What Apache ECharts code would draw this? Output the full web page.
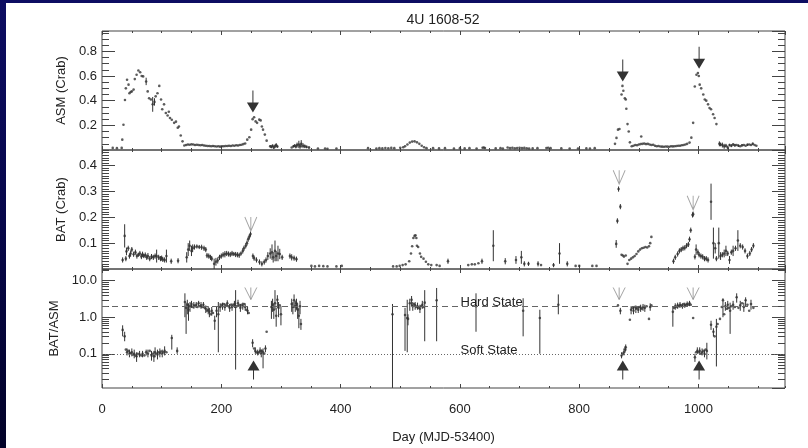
<!DOCTYPE html>
<html><head><meta charset="utf-8">
<script src="https://cdn.jsdelivr.net/npm/echarts@6/dist/echarts.min.js"></script>
<style>
html,body{margin:0;padding:0;width:808px;height:448px;overflow:hidden;background:linear-gradient(180deg,#0d0d62 0%,#07074a 50%,#020228 100%);}
#bg{position:absolute;left:6px;top:3px;width:802px;height:445px;background:#fff;}
#chart{position:absolute;left:0;top:0;width:808px;height:448px;}
</style></head><body><div id="bg"></div><div id="chart"></div>
<script>
const chartTitle = '4U 1608-52';
const xName = 'Day (MJD-53400)';
const panelNames = ['ASM (Crab)', 'BAT (Crab)', 'BAT/ASM'];
const stateNames = ['Hard State', 'Soft State'];
const hardLevel = 2.0;
const softLevel = 0.1;
const logMinorTicks = [0.02,0.03,0.04,0.05,0.06,0.07,0.08,0.09,0.2,0.3,0.4,0.5,0.6,0.7,0.8,0.9,2,3,4,5,6,7,8,9,20];

// ASM: [day, rate, error]
const asmData = [
[18,0.017],[25,0.015],[33,0.017],[34,0.084],[36,0.205],[38.5,0.405],[40,0.50],[42,0.57],[44.5,0.53],[46,0.46],[48,0.47],[50,0.475],[53,0.49],[55,0.575],[58,0.61],[61,0.645],[64,0.63],[66.5,0.60],[69,0.597],[74,0.556,0.03],[76.6,0.475],[79,0.42],[82,0.41],[85,0.37,0.06],[88,0.39,0.03],[90,0.435],[93,0.46],[96,0.52],[99,0.41],[101,0.33],[104,0.37],[107,0.30],[110,0.28],[112,0.31],[114,0.26],[117,0.245],[121,0.22],[124,0.23],[127,0.18],[129,0.19],[132,0.117],[135,0.07],[138,0.036],
[141,0.04],[144,0.045],[147,0.042],[150,0.046],[153,0.044],[156,0.04],[159,0.043],[162,0.041],[165,0.038],[168,0.04],[171,0.036],[174,0.035],[177,0.033],[180,0.032],[183,0.03],[186,0.033],[189,0.03],[192,0.028],[195,0.03],[198,0.027],[201,0.031],[204,0.03],[207,0.033],[210,0.032],[213,0.035],[216,0.033],[219,0.036],[222,0.035],[225,0.038],[228,0.036],[231,0.04],[234,0.042],[237,0.048],[240,0.053],[243.5,0.084],[247,0.103],[250,0.165],[252.5,0.25],[255,0.265],[257.5,0.232],[260,0.22],[263.7,0.246],[266,0.24],[268,0.19],[270,0.165],[273,0.125],[276,0.076],
[282,0.03,0.01],[284,0.025,0.01],[286,0.035,0.01],[288,0.02,0.012],[290,0.03,0.015],[292,0.04,0.015],[294,0.028,0.01],
[318,0.02],[321,0.03,0.01],[323,0.035,0.012],[325,0.028,0.015],[327,0.04,0.02],[330,0.045,0.03],[332,0.03,0.02],[334,0.05,0.03],[337,0.035,0.02],[340,0.03,0.015],[343,0.025,0.01],[347,0.02,0.01],
[362,0.012],[374,0.012],[378,0.01],[393,0.012],
[446,0.015],[460,0.012],[465,0.015],[470,0.013],[475,0.016],[480,0.014],[485,0.017],[490,0.015],[500,0.018],[505,0.022],[508,0.03],[512,0.045],[516,0.06],[520,0.068],[524,0.07],[528,0.062],[532,0.05],[536,0.035],[540,0.022],[544,0.015],
[555,0.015],[565,0.013],[575,0.015],[590,0.012],[600,0.015],[608,0.013],[616,0.015],[628,0.012],[638,0.018],[640,0.02],[642,0.016],[660,0.013],[668,0.015],[672,0.012],[680,0.02],[684,0.015],[688,0.018],[692,0.014],[696,0.016],[700,0.018],[704,0.015],[708,0.017],[712,0.014],[716,0.012],[722,0.013],[730,0.015],[745,0.016],[748,0.018],[752,0.015],[770,0.013],[784,0.012],[798,0.012],[812,0.013],[818,0.012],[826,0.015],
[860,0.05],[862.5,0.098],[865,0.165],[867.5,0.17],[871,0.45],[872.5,0.52],[874,0.48],[876.5,0.42],[878,0.41],[879,0.335],[881,0.21],[883,0.15],[885,0.062],[888,0.03],[891,0.035],[894,0.04],[897,0.038],[900,0.045],[903,0.048],[904,0.11],[906,0.05],[909,0.052],[912,0.048],[915,0.05],[918,0.045],[921,0.04],[924,0.042],[927,0.035],[930,0.03],[933,0.032],[936,0.028],[939,0.027],[942,0.026],[945,0.028],[948,0.027],[951,0.026],[954,0.03],[957,0.029],[960,0.031],[963,0.033],[966,0.035],[969,0.034],[972,0.038],[975,0.04],[978,0.045],[981,0.05],[985,0.06],[988,0.1],
[991,0.22],[993.8,0.515],[996.6,0.61],[999,0.624],[1000.5,0.60],[1002,0.53],[1004.5,0.50],[1008,0.45],[1010.5,0.41],[1013,0.40],[1016,0.37],[1018.5,0.34],[1021,0.33],[1024.5,0.29],[1027,0.26],[1030,0.21],
[1035,0.05,0.02],[1037,0.045,0.015],[1040,0.04,0.02],[1043,0.03,0.02],[1046,0.035,0.015],[1049,0.02,0.015],[1052,0.04,0.01],[1055,0.035,0.012],[1058,0.045,0.01],[1061,0.038,0.012],[1064,0.04],[1067,0.035,0.01],[1070,0.03],[1073,0.038,0.01],[1076,0.04],[1079,0.035],[1082,0.042,0.01],[1085,0.045],[1088,0.04],[1091,0.05,0.01],[1094,0.04],[1097,0.035]
];

// BAT: [day, rate, error]
const batData = [
[34.6,0.035,0.01],[38,0.128,0.045],[40,0.04,0.01],[41,0.068,0.015],[44,0.08,0.01],[46,0.05,0.01],[48,0.06,0.012],[50,0.075,0.01],[53,0.057,0.01],[56,0.065,0.01],[58.5,0.05,0.01],[61,0.055,0.008],[63.5,0.06,0.01],[66,0.048,0.01],[68,0.057,0.01],[70,0.05,0.008],[72.5,0.054,0.01],[75,0.045,0.01],[77,0.05,0.012],[80,0.04,0.01],[83,0.048,0.01],[86,0.045,0.01],[89,0.05,0.01],[91.6,0.05,0.025],[95,0.045,0.01],[98,0.04,0.01],[100,0.042,0.01],[102,0.037,0.01],[105,0.035,0.01],[108,0.05,0.025],[116,0.03,0.01],[127.5,0.032,0.01],
[142,0.045,0.02],[144.5,0.075,0.025],[147,0.09,0.02],[150,0.07,0.02],[152,0.08,0.015],[155,0.085,0.01],[159,0.087,0.008],[163,0.085,0.008],[167,0.084,0.01],[171,0.08,0.01],[174,0.075,0.01],[176,0.052,0.01],[179,0.05,0.01],[182,0.045,0.01],[184,0.04,0.01],[188,0.02,0.02],[191,0.028,0.015],[194,0.033,0.012],[197,0.045,0.01],[200,0.05,0.01],[203,0.055,0.01],[206,0.057,0.012],[209,0.06,0.01],[212,0.058,0.01],[215,0.056,0.01],[218,0.06,0.01],[221,0.058,0.008],[224,0.056,0.01],[227,0.055,0.01],[230,0.053,0.01],[233,0.06,0.008],[236,0.07,0.01],[238,0.08,0.01],[241,0.09,0.01],[243,0.1,0.01],[245,0.115,0.01],[247,0.125,0.01],[249,0.135,0.01],
[253,0.05,0.01],[255,0.042,0.01],[259,0.035,0.01],[264,0.027,0.01],[268,0.02,0.01],[272,0.027,0.01],[275,0.035,0.01],[278,0.05,0.015],[282,0.06,0.02],[285,0.065,0.03],[287,0.045,0.02],[290,0.07,0.04],[292,0.05,0.02],[295,0.06,0.03],[298,0.058,0.02],[302,0.045,0.01],
[315,0.05,0.01],[318,0.045,0.012],[322,0.042,0.01],[326,0.038,0.01],
[351,0.012],[357,0.01],[364,0.012],[371,0.011],[378,0.01],[393,0.01],[402,0.012],
[488,0.01],[494,0.01],[499,0.012],[504,0.015],[509,0.018],[515,0.03],[518,0.06],[520,0.088],[522,0.12],[524,0.128],[525.5,0.13],[527,0.12],[528,0.09],[530,0.085],[533,0.06],[535,0.047],[539,0.04],[543,0.028],[547,0.018],[552,0.015],[561,0.015],[566,0.012],
[580,0.03,0.01],[614,0.015],[620,0.018],[625,0.018],[631,0.022],[637,0.03,0.01],
[656,0.09,0.06],[676,0.03,0.012],[694,0.035,0.015],[703,0.045,0.025],[708,0.02,0.01],[715,0.02,0.008],[731,0.02,0.01],[736,0.015],[757,0.015,0.008],[767,0.06,0.04],[780,0.02,0.01],[794,0.012],[800,0.012],[822,0.012],[829,0.012],
[862,0.097,0.015],[864,0.186,0.01],[866,0.309,0.01],[869,0.241,0.01],
[871,0.055],[873,0.052],[875,0.048],[878,0.052],[881,0.02],[884,0.035],[887,0.04],[890,0.045],[893,0.05],[896,0.058],[899,0.068],[902,0.075],[905,0.08],[908,0.082],[911,0.085],[914,0.083],[917,0.088],[919,0.1],[921,0.124],
[958,0.03,0.01],[961,0.045,0.01],[965,0.058,0.01],[968,0.07,0.01],[971,0.075,0.01],[974,0.08,0.01],[977,0.082,0.01],[980,0.09,0.01],[983,0.095,0.01],[985,0.115,0.01],[987,0.15,0.01],[990,0.209,0.01],[991,0.212,0.01],
[994,0.047,0.01],[996,0.075,0.02],[999,0.065,0.01],[1001,0.055,0.01],[1004,0.05,0.01],[1007,0.047,0.01],[1010,0.04,0.01],[1013,0.04,0.01],[1016,0.035,0.01],[1021,0.26,0.07],[1025,0.1,0.06],[1028,0.08,0.02],[1030,0.04,0.01],[1034,0.1,0.06],[1037,0.05,0.015],[1040,0.055,0.01],[1043,0.06,0.015],[1046,0.07,0.02],[1049,0.06,0.01],[1052,0.035,0.015],[1055,0.065,0.01],[1058,0.07,0.02],[1062,0.08,0.01],[1066,0.11,0.04],[1070,0.09,0.01],[1074,0.085,0.01],[1078,0.07,0.01],[1082,0.05,0.01],[1086,0.06,0.01],[1089,0.075,0.01],[1092,0.09,0.01]
];

// BAT/ASM: [day, ratio, low, high]
const ratioData = [
[34.6,0.45,0.3,0.6],[38,0.3,0.22,0.4],[40,0.13],[42,0.11,0.09,0.14],[44,0.12],[46,0.1,0.08,0.13],[48,0.105],[50,0.11,0.085,0.14],[52,0.095],[54,0.1,0.075,0.13],[56,0.09],[58,0.085,0.06,0.11],[60,0.1],[63,0.095,0.08,0.12],[66,0.09],[68,0.1,0.08,0.12],[71,0.09],[74,0.11,0.09,0.13],[77,0.1,0.08,0.13],[80,0.12],[83,0.09,0.065,0.12],[85,0.1],[87,0.085,0.06,0.12],[89,0.11,0.08,0.15],[91,0.1],[93,0.095,0.07,0.13],[95,0.11],[97,0.105,0.08,0.14],[99,0.115],[101,0.1,0.08,0.13],[103,0.11],[105,0.12,0.09,0.16],[108,0.11],[117,0.27,0.13,0.33],[126,0.12,0.1,0.15],
[139,2.6,1.0,4.5],[141,1.8,0.35,2.5],[143,2.2,1.2,3.0],[145,1.6,0.8,2.4],[147.5,2.0,1.4,2.6],[150,2.3,1.8,2.8],[152,1.9],[154,2.1,1.7,2.6],[156,2.0],[158,2.2,1.8,2.6],[160,1.9],[162,2.4,2.0,2.8],[164,2.0],[166,2.1,1.7,2.6],[168,1.9],[170,2.2,1.8,2.6],[172,1.8],[174,1.7,1.3,2.1],[176,1.5],[178,1.6,1.2,2.0],[180,1.4,1.0,1.8],[182,1.2],[184,1.5,1.1,1.9],[186,1.3],[189,0.8,0.45,1.1],[192,1.5,1.0,2.0],[195,1.2,0.11,2.6],[198,1.9,1.4,2.4],[200,2.2],[202,2.0,1.6,2.5],[204,2.3],[206,1.9,1.5,2.4],[208,2.1],[210,2.4,2.0,2.9],[212,2.0],[214,1.8,1.4,2.3],[216,2.2],[218,1.9,1.5,2.4],[220,2.1],[222,2.3,1.8,2.8],[224,1.9,0.037,5.5],[226,2.0],[228,2.4,1.9,3.0],[230,2.1],[232,1.8,1.4,2.3],[234,2.2],[236,2.0,1.6,2.5],[238,2.3],[240,1.9,1.5,2.4],[242,1.6],[244,1.5,1.2,1.9],[246,1.3],
[252.5,0.2,0.15,0.25],[255,0.14],[257,0.12,0.1,0.15],[259,0.11],[261,0.105,0.09,0.13],[263,0.11],[265,0.12,0.1,0.15],[267,0.1,0.08,0.13],[268,0.12],[270,0.11,0.04,0.14],[272,0.1],[274,0.14,0.11,0.17],[276,0.4],
[284,1.9,0.9,2.8],[286,2.2,1.4,3.2],[288,1.6,0.9,2.4],[290,2.4,1.6,5.5],[292,1.1,0.55,1.8],[294,3.0,1.8,4.0],[296,1.8,1.0,2.6],[298,2.1],[300,1.2,0.6,2.0],
[318,2.3,1.4,3.2],[320,1.9,1.2,2.6],[322,2.9,1.8,4.2],[324,2.0,1.4,2.8],[326,2.4,1.6,3.2],[328,1.6,0.9,2.4],[330,1.1,0.5,1.8],[332,2.0,1.2,2.8],[333.5,0.65,0.45,0.9],
[487,1.2,0.0117,2.3],[508,1.15,0.12,1.8],[511.7,0.95,0.11,3.0],[513,0.9,0.6,1.2],[516,2.4,1.5,3.2],[519,3.0,2.0,3.8],[521,2.0,1.5,2.6],[523,2.3],[525,2.1,1.6,2.6],[527,1.9],[529,2.0,1.6,2.5],[531,1.8],[533,1.7,1.3,2.2],[535,2.0],[537,2.2,1.7,2.8],[539,1.9],[541,2.5,0.22,5.5],
[561,2.9,0.22,6.3],[627,2.0,0.4,4.5],[706,1.5,0.3,3.3],[734,0.95,0.1,1.6],[765,2.2,1.2,4.2],
[865,2.1],[869,1.5,1.2,1.8],[871,0.09,0.075,0.11],[873,0.1],[875,0.11,0.09,0.14],[877,0.13,0.11,0.16],[878,0.15,0.12,0.18],
[885,0.85],[887,1.6,1.2,2.0],[889,1.8],[891,1.5,1.2,1.9],[893,1.9],[895,1.7,1.3,2.1],[897,1.8],[899,1.6,1.3,2.0],[901,1.9],[903,1.8,1.4,2.2],[905,1.7],[907,1.9,1.5,2.3],[910,1.8,1.4,2.2],[913,2.0],[917,0.9],[919,1.9,1.5,2.4],[921,2.1],
[957,1.4,0.55,2.0],[959,1.8],[961,2.0,1.6,2.4],[963,1.9],[965,2.1,1.7,2.5],[967,2.0],[969,2.2,1.8,2.6],[971,2.1],[973,2.0,1.7,2.4],[975,2.3],[977,2.1,1.8,2.5],[979,2.2],[981,2.3,1.9,2.7],[983,2.2],[985,2.4,2.0,2.8],[987,2.2],[991,0.95],
[994,0.08,0.06,0.1],[996,0.11],[998,0.12,0.1,0.15],[1000,0.11],[1002,0.12,0.1,0.15],[1004,0.1],[1006,0.11,0.09,0.14],[1008,0.12],[1010,0.1,0.08,0.13],[1012,0.13],[1014,0.12,0.07,0.2],
[1021,0.62,0.45,0.8],[1025,0.4,0.3,0.5],[1027,0.3],[1030,0.55,0.045,0.9],[1032,0.65],[1036,0.9],[1039,1.9],[1041,2.9,1.0,3.3],[1043,1.2],[1045,2.0,1.5,2.6],[1047,1.7],[1049,2.2,1.6,2.8],[1051,1.8],[1053,1.5,0.35,2.5],[1055,2.0],[1058,2.2,1.6,2.8],[1061,1.9],[1064,3.5,2.5,4.5],[1067,1.8],[1070,2.1,1.5,2.8],[1073,2.4],[1076,1.9,1.4,2.5],[1079,2.9,2.0,3.5],[1082,2.2],[1085,1.5],[1088,2.3,1.6,3.0],[1092,1.8]
];

// arrow markers [day, value at tip]
const asmArrows = [[253,0.305],[873,0.556],[1001,0.659]];
const batArrows = [[249.5,0.147],[867,0.328],[991,0.229]];
const ratioArrowsDown = [[249.5,3.05],[867,3.05],[991,3.05]];
const ratioArrowsUp = [[254,0.066],[873,0.066],[1001,0.066]];
const stateTextDay = 601;

const FONT = '"Liberation Sans", Arial, Helvetica, sans-serif';
const INK = '#333';
const GRAY = '#8c8c8c';
const AXC = '#444';

const gridTops = [31, 150, 269];
const gridH = 119;
const yCfg = [
  {type:'value', min:0, max:0.965, interval:0.2, minor:0.05},
  {type:'value', min:0, max:0.46, interval:0.1, minor:0.01},
  {type:'log', min:0.0116, max:20.8}
];

const grids = gridTops.map(t => ({left:102, width:683, top:t, height:gridH, show:true, borderColor:AXC, borderWidth:1, backgroundColor:'transparent'}));

const xAxes = [], yAxes = [];
for (let i = 0; i < 3; i++) {
  const base = {type:'value', gridIndex:i, min:0, max:1145, axisLine:{show:false, onZero:false}, splitLine:{show:false}};
  ['bottom','top'].forEach(pos => {
    xAxes.push(Object.assign({}, base, {position:pos, interval:200,
      axisTick:{show:true, inside:true, length:4, lineStyle:{color:AXC}},
      axisLabel:{show: (i===2 && pos==='bottom'), margin:15, fontSize:13, fontFamily:FONT, color:'#222', showMaxLabel:false,
        formatter: v => String(v)},
      name: (i===2 && pos==='bottom') ? xName : '', nameLocation:'middle', nameGap:43,
      nameTextStyle:{fontSize:13, fontFamily:FONT, color:'#222'}}));
    xAxes.push(Object.assign({}, base, {position:pos, interval:50,
      axisTick:{show:true, inside:true, length:2, lineStyle:{color:AXC}},
      axisLabel:{show:false}}));
  });
  const c = yCfg[i];
  ['left','right'].forEach(pos => {
    const ybase = {type:c.type, gridIndex:i, min:c.min, max:c.max, position:pos, axisLine:{show:false, onZero:false}, splitLine:{show:false}};
    const major = Object.assign({}, ybase, {
      axisTick:{show:true, inside:true, length:13, lineStyle:{color:AXC}},
      axisLabel:{show: pos==='left', margin:5, fontSize:13, fontFamily:FONT, color:'#222', showMinLabel:false, showMaxLabel:false,
        formatter: v => v.toFixed(1)},
      name: pos==='left' ? panelNames[i] : '', nameLocation:'middle', nameGap:33,
      nameTextStyle:{fontSize:13, fontFamily:FONT, color:'#222'}});
    if (c.type === 'value') major.interval = c.interval;
    yAxes.push(major);
    const minor = Object.assign({}, ybase, {axisTick:{show: c.type==='value', inside:true, length:7, lineStyle:{color:AXC}}, axisLabel:{show:false}});
    if (c.type === 'value') minor.interval = c.minor;
    yAxes.push(minor);
  });
}

function linBars(arr) { return arr.filter(d => d[2]).map(d => [d[0], d[1], Math.max(d[1]-d[2], 0), d[1]+d[2]]); }
function logBars(arr) { return arr.filter(d => d.length > 3).map(d => [d[0], d[1], d[2], d[3]]); }

function barSeries(i, data) {
  return {type:'custom', xAxisIndex:4*i, yAxisIndex:4*i, data:data, silent:true, clip:true, z:2,
    encode:{x:0, y:1},
    renderItem:(params, api) => {
      const a = api.coord([api.value(0), api.value(2)]);
      const b = api.coord([api.value(0), api.value(3)]);
      return {type:'line', shape:{x1:a[0], y1:a[1], x2:b[0], y2:b[1]}, style:{stroke:INK, lineWidth:1}};
    }};
}
function ptSeries(i, data) {
  return {type:'scatter', xAxisIndex:4*i, yAxisIndex:4*i, data:data.map(d => [d[0], d[1]]), symbol:'circle', symbolSize:2.6,
    itemStyle:{color:INK}, silent:true, z:3, animation:false};
}
// minor ticks of the log axis (2..9 per decade), on both frame sides
const logMinorSeries = {type:'custom', xAxisIndex:8, yAxisIndex:8, silent:true, z:4, encode:{x:0, y:1},
  data: logMinorTicks.map(v => [500, v]),
  renderItem:(params, api) => {
    const cs = params.coordSys;
    const p = api.coord([api.value(0), api.value(1)]);
    const y = Math.round(p[1]) + 0.5;
    return {type:'group', children:[
      {type:'line', shape:{x1:cs.x, y1:y, x2:cs.x+7, y2:y}, style:{stroke:AXC, lineWidth:1}},
      {type:'line', shape:{x1:cs.x+cs.width-7, y1:y, x2:cs.x+cs.width, y2:y}, style:{stroke:AXC, lineWidth:1}}
    ]};
  }};

const ARROW_DOWN_SOLID = 'path://M5.5,0L6.5,0L6.5,12L12,12L6,22L0,12L5.5,12Z';
const ARROW_UP_SOLID = 'path://M6,0L12,10L6.5,10L6.5,19L5.5,19L5.5,10L0,10Z';
const ARROW_DOWN_OPEN = 'path://M0,0L6,14L12,0M6,0L6,14';

function arrowSeries(i, data, symbol, size, offset, solid) {
  return {type:'scatter', xAxisIndex:4*i, yAxisIndex:4*i, data:data, symbol:symbol, symbolSize:size, symbolOffset:offset,
    itemStyle: solid ? {color:'#000'} : {color:'rgba(0,0,0,0)', borderColor:GRAY, borderWidth:1},
    silent:true, z:5, animation:false};
}

const ratioPts = ptSeries(2, ratioData);
ratioPts.markLine = {symbol:'none', silent:true, animation:false, label:{show:false},
  data:[{yAxis:hardLevel, lineStyle:{type:[6,4], color:'#666', width:1}}, {yAxis:softLevel, lineStyle:{type:[1,2], color:'#666', width:1}}]};
ratioPts.markPoint = {symbol:'circle', symbolSize:0, silent:true, animation:false,
  label:{show:true, position:[0,0], align:'left', verticalAlign:'bottom', offset:[0,3], fontSize:13, fontFamily:FONT, color:'#222'},
  data:[{coord:[stateTextDay, hardLevel], label:{formatter:stateNames[0]}}, {coord:[stateTextDay, softLevel], label:{formatter:stateNames[1]}}]};

const option = {
  animation:false,
  backgroundColor:'transparent',
  title:{text:chartTitle, left:438, top:8, textAlign:'center', textStyle:{fontSize:14, fontWeight:'normal', fontFamily:FONT, color:'#222'}},
  grid:grids,
  xAxis:xAxes,
  yAxis:yAxes,
  series:[
    barSeries(0, linBars(asmData)), ptSeries(0, asmData),
    barSeries(1, linBars(batData)), ptSeries(1, batData),
    barSeries(2, logBars(ratioData)), ratioPts, logMinorSeries,
    arrowSeries(0, asmArrows, ARROW_DOWN_SOLID, [12,22], [0,-11], true),
    arrowSeries(1, batArrows, ARROW_DOWN_OPEN, [12,14], [0,-7], false),
    arrowSeries(2, ratioArrowsDown, ARROW_DOWN_OPEN, [12,12], [0,-6], false),
    arrowSeries(2, ratioArrowsUp, ARROW_UP_SOLID, [12,19], [0,9.5], true)
  ]
};
const chart = echarts.init(document.getElementById('chart'), null, {renderer:'canvas'});
chart.setOption(option);
</script></body></html>
